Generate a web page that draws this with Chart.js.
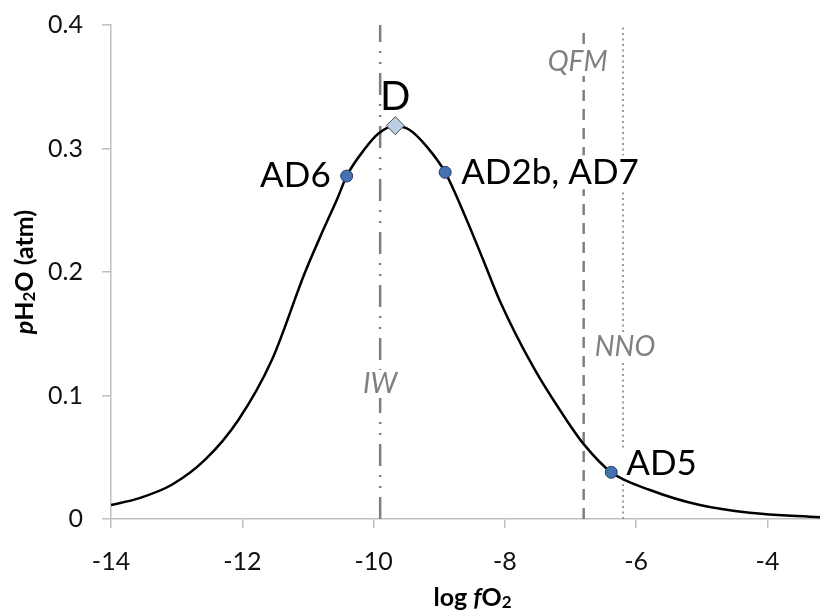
<!DOCTYPE html>
<html>
<head>
<meta charset="utf-8">
<script src="https://cdn.jsdelivr.net/npm/chart.js@4"></script>
<style>
html,body{margin:0;padding:0;background:#fff;}
#wrap{width:820px;height:615px;position:relative;}
</style>
</head>
<body>
<div id="wrap"><canvas id="c"></canvas></div>
<script>
// ---- data ----
const curveX = [-14, -13.58, -13.08, -12.57, -12.06, -11.55, -11.05, -10.79, -10.54, -10.41, -10.13, -9.93, -9.68, -9.45, -9.19, -8.91, -8.58, -8.33, -8.08, -7.57, -7.06, -6.79, -6.38, -5.79, -5.03, -4.27, -3.2];
const curveY = [0.0113, 0.0167, 0.0275, 0.0478, 0.0802, 0.1287, 0.199, 0.2313, 0.261, 0.2777, 0.300, 0.312, 0.3182, 0.315, 0.3015, 0.2807, 0.242, 0.2097, 0.177, 0.1233, 0.080, 0.060, 0.0378, 0.0235, 0.0113, 0.0051, 0.0015];

const sampleNames = ['AD6', 'AD2b, AD7', 'AD5'];
const sampleX = [-10.41, -8.91, -6.38];
const sampleY = [0.2777, 0.2807, 0.0378];

const dName = 'D';
const dX = [-9.67];
const dY = [0.3185];

const bufferNames = ['IW', 'QFM', 'NNO'];
const bufferX = [-9.9, -6.8, -6.2];

const xTicks = [-14, -12, -10, -8, -6, -4];
const yTicks = [0, 0.1, 0.2, 0.3, 0.4];
const xMin = -14, xMax = -3.2, yMin = 0, yMax = 0.4;

// ---- build datasets ----
const pts = (xs, ys) => xs.map((x, i) => ({x: x, y: ys[i]}));
const vline = x => [{x: x, y: yMin}, {x: x, y: yMax}];
const greyDark = '#7f7f7f';
const bufferStyles = [
  {color: greyDark, width: 2.5, dash: [22, 9, 2, 9, 2, 9]},
  {color: greyDark, width: 2.5, dash: [11, 8]},
  {color: '#9a9a9a', width: 2, dash: [2, 3.5]}
];

const datasets = [
  {label: 'samples', data: pts(sampleX, sampleY), showLine: false, pointStyle: 'circle', pointRadius: 6, pointBackgroundColor: '#4472b0', pointBorderColor: '#24406b', pointBorderWidth: 1},
  {label: dName, data: pts(dX, dY), showLine: false, pointStyle: 'rectRot', pointRadius: 9, pointBackgroundColor: '#b9cde5', pointBorderColor: '#4d4d4d', pointBorderWidth: 1},
  {label: 'curve', data: pts(curveX, curveY), showLine: true, borderColor: '#000', borderWidth: 2.5, pointRadius: 0, cubicInterpolationMode: 'monotone', fill: false}
];
bufferX.forEach((x, i) => {
  const s = bufferStyles[i];
  datasets.push({label: bufferNames[i], data: vline(x), showLine: true, borderColor: s.color, borderWidth: s.width, borderDash: s.dash, pointRadius: 0, fill: false});
});

const FONT = 'Lato, "Open Sans", sans-serif';

function drawBoxText(ctx, text, x, y, align, font, color, box) {
  ctx.save();
  ctx.font = font;
  ctx.textAlign = align;
  ctx.textBaseline = 'middle';
  if (box) {
    const w = ctx.measureText(text).width;
    let left = align === 'left' ? x : (align === 'right' ? x - w : x - w / 2);
    ctx.fillStyle = '#fff';
    ctx.fillRect(left - 6, y - box / 2, w + 12, box);
  }
  ctx.fillStyle = color;
  ctx.fillText(text, x, y);
  ctx.restore();
}

function drawRich(ctx, parts, x, y) {
  let total = 0;
  parts.forEach(p => { ctx.font = p.font; p.w = ctx.measureText(p.t).width; total += p.w; });
  let cx = x - total / 2;
  ctx.textAlign = 'left';
  ctx.textBaseline = 'alphabetic';
  ctx.fillStyle = '#000';
  parts.forEach(p => { ctx.font = p.font; ctx.fillText(p.t, cx, y + (p.dy || 0)); cx += p.w; });
}

const labelPlugin = {
  id: 'labelPlugin',
  beforeDatasetDraw(chart, args) {
    if (args.index !== 2) return;
    const ctx = chart.ctx;
    const xs = chart.scales.x, ys = chart.scales.y;
    const big = '35px ' + FONT;
    const cfg = [
      {align: 'right', dx: -16, dy: 0, box: 0},
      {align: 'left', dx: 16, dy: 0, box: 34},
      {align: 'left', dx: 15, dy: -9, box: 30}
    ];
    sampleNames.forEach((n, i) => {
      const px = xs.getPixelForValue(sampleX[i]);
      const py = ys.getPixelForValue(sampleY[i]);
      const c = cfg[i];
      drawBoxText(ctx, n, px + c.dx, py + c.dy, c.align, big, '#000', c.box);
    });
    drawBoxText(ctx, dName, xs.getPixelForValue(dX[0]), ys.getPixelForValue(dY[0]) - 29, 'center', '40px ' + FONT, '#000', 0);
    const bl = [
      {y: 384, dx: 0},
      {y: 62, dx: -6},
      {y: 347, dx: 2}
    ];
    bufferNames.forEach((n, i) => {
      const px = xs.getPixelForValue(bufferX[i]);
      drawBoxText(ctx, n, px + bl[i].dx, bl[i].y, 'center', 'italic 28px ' + FONT, '#808080', 28);
    });
  },
  afterDraw(chart) {
    const ctx = chart.ctx;
    const a = chart.chartArea;
    ctx.save();
    const fb = 'bold 25px ' + FONT, fbi = 'italic bold 25px ' + FONT, fs = 'bold 17px ' + FONT;
    drawRich(ctx, [
      {t: 'log ', font: fb},
      {t: 'f', font: fbi},
      {t: 'O', font: fb},
      {t: '2', font: fs, dy: 2}
    ], (a.left + a.right) / 2 + 7, 606);
    ctx.translate(33, (a.top + a.bottom) / 2);
    ctx.rotate(-Math.PI / 2);
    drawRich(ctx, [
      {t: 'p', font: fbi},
      {t: 'H', font: fb},
      {t: '2', font: fs, dy: 2},
      {t: 'O (atm)', font: fb}
    ], 0, 0);
    ctx.restore();
  }
};

new Chart(document.getElementById('c'), {
  type: 'scatter',
  data: {datasets: datasets},
  options: {
    responsive: true,
    maintainAspectRatio: false,
    animation: false,
    layout: {autoPadding: false, padding: {top: 25, right: 0, bottom: 0, left: 0}},
    plugins: {legend: {display: false}, tooltip: {enabled: false}},
    scales: {
      x: {
        type: 'linear', min: xMin, max: xMax,
        afterBuildTicks: s => { s.ticks = xTicks.map(v => ({value: v})); },
        afterFit: s => { s.height = 96; s.paddingRight = 0; },
        border: {color: '#bfbfbf', width: 1.5},
        grid: {drawOnChartArea: false, drawTicks: true, tickLength: 9, color: '#bfbfbf', lineWidth: 1.5},
        ticks: {font: {family: FONT, size: 25}, color: '#111', padding: 19, maxRotation: 0, callback: v => String(v)}
      },
      y: {
        type: 'linear', min: yMin, max: yMax,
        afterBuildTicks: s => { s.ticks = yTicks.map(v => ({value: v})); },
        afterFit: s => { s.width = 111; s.paddingTop = 0; s.paddingBottom = 0; },
        border: {color: '#bfbfbf', width: 1.5},
        grid: {drawOnChartArea: false, drawTicks: true, tickLength: 9, color: '#bfbfbf', lineWidth: 1.5},
        ticks: {font: {family: FONT, size: 25}, color: '#111', padding: 19, callback: v => String(Math.round(v * 10) / 10)}
      }
    }
  },
  plugins: [labelPlugin]
});
</script>
</body>
</html>
